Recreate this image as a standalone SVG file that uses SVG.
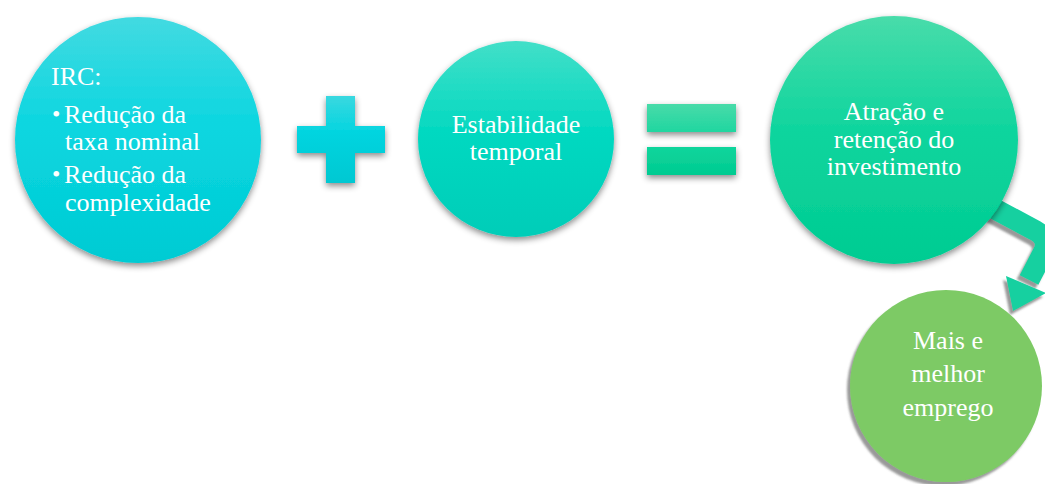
<svg xmlns="http://www.w3.org/2000/svg" width="1045" height="484" viewBox="0 0 1045 484">
<style>
text{font-family:"Liberation Serif","Times New Roman",serif;font-size:26px;fill:#ffffff}
.c{text-anchor:middle}
.b{font-size:24px}
</style>
<defs>
<linearGradient id="g1" x1="0" y1="0" x2="0" y2="1"><stop offset="0" stop-color="#42dae1"/><stop offset="0.45" stop-color="#0bd6e0"/><stop offset="1" stop-color="#00cbd3"/></linearGradient>
<linearGradient id="gp" x1="0" y1="0" x2="0" y2="1"><stop offset="0" stop-color="#3ad8e0"/><stop offset="0.4" stop-color="#05d5e0"/><stop offset="1" stop-color="#00c8d2"/></linearGradient>
<linearGradient id="g2" x1="0" y1="0" x2="0" y2="1"><stop offset="0" stop-color="#42dfc8"/><stop offset="0.45" stop-color="#05d9c1"/><stop offset="1" stop-color="#00cdb8"/></linearGradient>
<linearGradient id="ge1" x1="0" y1="0" x2="0" y2="1"><stop offset="0" stop-color="#48dba9"/><stop offset="1" stop-color="#20d6a0"/></linearGradient>
<linearGradient id="ge2" x1="0" y1="0" x2="0" y2="1"><stop offset="0" stop-color="#10d59c"/><stop offset="1" stop-color="#00cb91"/></linearGradient>
<linearGradient id="g3" x1="0" y1="0" x2="0" y2="1"><stop offset="0" stop-color="#48dcaa"/><stop offset="0.45" stop-color="#10d59e"/><stop offset="1" stop-color="#00cc92"/></linearGradient>
<filter id="sh" x="-20%" y="-20%" width="140%" height="140%"><feDropShadow dx="0" dy="3" stdDeviation="3" flood-color="#000" flood-opacity="0.45"/></filter>
<filter id="sh2" x="-20%" y="-20%" width="140%" height="140%"><feDropShadow dx="-3" dy="4" stdDeviation="1" flood-color="#555" flood-opacity="0.6"/></filter>
</defs>
<g id="connectors">
<g filter="url(#sh2)">
<path d="M 993 208 L 1036 231 Q 1050 239 1043 253 L 1029 280" fill="none" stroke="#14d0a0" stroke-width="21" stroke-linejoin="round"/>
<polygon points="1006,276 1046,293 1013,311" fill="#14d0a0"/>
</g>
</g>
<g id="n1">
<circle cx="138" cy="140" r="123" fill="url(#g1)" filter="url(#sh)"/>
<text x="51" y="85">IRC:</text>
<text class="b" x="52" y="122">•</text>
<text x="64" y="123">Redução da</text>
<text x="65" y="150">taxa nominal</text>
<text class="b" x="52" y="182">•</text>
<text x="64" y="183">Redução da</text>
<text x="65" y="211">complexidade</text>
</g>
<g id="plus" filter="url(#sh)">
<path d="M326 96 H355 V126 H385 V153 H355 V183 H326 V153 H297 V126 H326 Z" fill="url(#gp)"/>
</g>
<g id="n2">
<circle cx="516" cy="139" r="98" fill="url(#g2)" filter="url(#sh)"/>
<text class="c" x="516" y="133">Estabilidade</text>
<text class="c" x="516" y="160">temporal</text>
</g>
<g id="equals" filter="url(#sh)">
<rect x="647" y="104" width="89" height="28" fill="url(#ge1)"/>
<rect x="647" y="147" width="89" height="28" fill="url(#ge2)"/>
</g>
<g id="n3">
<circle cx="894" cy="140" r="124" fill="url(#g3)" filter="url(#sh)"/>
<text class="c" x="894" y="120">Atração e</text>
<text class="c" x="894" y="148">retenção do</text>
<text class="c" x="894" y="175">investimento</text>
</g>
<g id="n4">
<circle cx="946" cy="386" r="96" fill="#7dca65" filter="url(#sh2)"/>
<text class="c" x="948" y="349">Mais e</text>
<text class="c" x="948" y="382">melhor</text>
<text class="c" x="948" y="416">emprego</text>
</g>
</svg>
